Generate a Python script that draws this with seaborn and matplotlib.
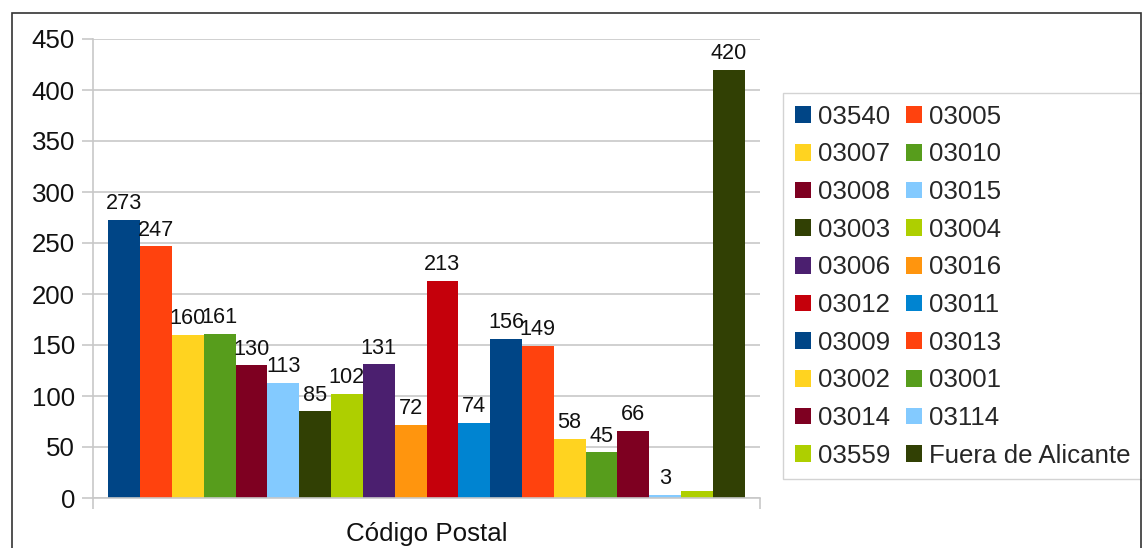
import matplotlib
matplotlib.use("Agg")
import matplotlib.pyplot as plt
import seaborn as sns
import pandas as pd
from matplotlib.patches import Rectangle

series = ["03540", "03005", "03007", "03010", "03008", "03015", "03003", "03004",
          "03006", "03016", "03012", "03011", "03009", "03013", "03002", "03001",
          "03014", "03114", "03559", "Fuera de Alicante"]
values = [273, 247, 160, 161, 130, 113, 85, 102, 131, 72, 213, 74, 156, 149,
          58, 45, 66, 3, 7, 420]
labels = ["273", "247", "160", "161", "130", "113", "85", "102", "131", "72",
          "213", "74", "156", "149", "58", "45", "66", "3", "", "420"]
category = "Código Postal"
yticks = [0, 50, 100, 150, 200, 250, 300, 350, 400, 450]

palette = ["#004586", "#ff420e", "#ffd320", "#579d1c", "#7e0021", "#83caff",
           "#314004", "#aecf00", "#4b1f6f", "#ff950e", "#c5000b", "#0084d1",
           "#004586", "#ff420e", "#ffd320", "#579d1c", "#7e0021", "#83caff",
           "#aecf00", "#314004"]

df = pd.DataFrame({"cat": [category] * len(series), "serie": series, "val": values})

sns.set_theme(style="white")
plt.rcParams["font.family"] = ["Liberation Sans", "DejaVu Sans"]

FS = 18.6
fig = plt.figure(figsize=(11.42, 5.48), dpi=100)
ax = fig.add_axes([93 / 1142, 50 / 548, 667 / 1142, 459 / 548])

sns.barplot(data=df, x="cat", y="val", hue="serie", hue_order=series,
            palette=palette, width=0.954, gap=0, dodge=True, ax=ax,
            saturation=1, legend=True, edgecolor="none", linewidth=0)

for cont, lab in zip(ax.containers, labels):
    ax.bar_label(cont, labels=[lab], padding=4, fontsize=15.6, color="#111111")

ax.set_xlim(-0.5, 0.5)
ax.set_ylim(0, 450)
ax.set_yticks(yticks)
ax.set_yticklabels([str(t) for t in yticks], fontsize=FS, color="#111111")
ax.yaxis.grid(True, color="#c8c8c8", linewidth=1.2)
ax.set_axisbelow(True)
ax.tick_params(axis="y", which="both", left=True, length=8, width=1.2,
               color="#c8c8c8", pad=5)
ax.set_xticks([-0.5, 0.5])
ax.set_xticklabels(["", ""])
ax.tick_params(axis="x", bottom=True, length=8, width=1.2, color="#c8c8c8")
ax.set_xlabel(category, fontsize=FS, labelpad=6, color="#111111")
ax.set_ylabel("")
for s in ["top", "right"]:
    ax.spines[s].set_visible(False)
for s in ["left", "bottom"]:
    ax.spines[s].set_color("#c8c8c8")
    ax.spines[s].set_linewidth(1.2)

handles, hl = ax.get_legend_handles_labels()
order = list(range(0, len(hl), 2)) + list(range(1, len(hl), 2))
ax.legend([handles[i] for i in order], [hl[i] for i in order], ncol=2, loc="upper left",
          bbox_to_anchor=(783 / 1142, 1 - 93 / 548), bbox_transform=fig.transFigure,
          fontsize=FS, frameon=True, fancybox=False, edgecolor="#c8c8c8",
          handlelength=0.62, handleheight=0.62, handletextpad=0.28,
          columnspacing=0.6, labelspacing=0.53, borderpad=0.45, borderaxespad=0)

fig.patches.append(Rectangle((12 / 1142, -0.01), (1141 - 12) / 1142, 1 - 13 / 548 + 0.01,
                             transform=fig.transFigure, fill=False,
                             edgecolor="#333333", linewidth=1.2))

fig.savefig("out.png", dpi=100)
